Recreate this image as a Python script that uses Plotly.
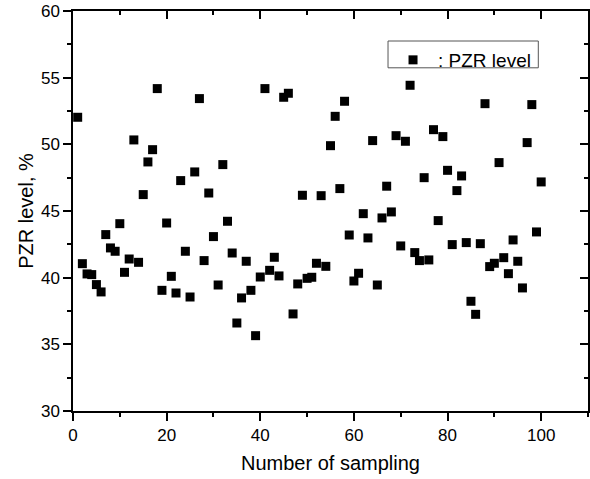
import plotly.graph_objects as go

sample_no = list(range(1, 101))
pzr_level = [
    52.03, 41.05, 40.28, 40.23, 39.48, 38.93, 43.23, 42.23, 41.98, 44.05,
    40.40, 41.40, 50.33, 41.15, 46.23, 48.68, 49.60, 54.18, 39.05, 44.10,
    40.10, 38.85, 47.28, 41.98, 38.55, 47.93, 53.43, 41.28, 46.35, 43.08,
    39.45, 48.48, 44.23, 41.85, 36.60, 38.48, 41.23, 39.05, 35.65, 40.05,
    54.18, 40.55, 41.53, 40.13, 53.53, 53.83, 37.28, 39.53, 46.18, 39.95,
    40.03, 41.08, 46.15, 40.85, 49.90, 52.10, 46.68, 53.23, 43.20, 39.75,
    40.33, 44.80, 42.98, 50.28, 39.45, 44.48, 46.86, 44.93, 50.65, 42.38,
    50.23, 54.43, 41.88, 41.28, 47.50, 41.33, 51.10, 44.28, 50.58, 48.05,
    42.48, 46.53, 47.63, 42.63, 38.23, 37.25, 42.55, 53.05, 40.83, 41.08,
    48.63, 41.50, 40.30, 42.83, 41.23, 39.23, 50.13, 52.98, 43.43, 47.18,
]
series_name = ": PZR level"
x_title = "Number of sampling"
y_title = "PZR level, %"

FONT = "Liberation Sans, Arial, sans-serif"

fig = go.Figure()
fig.add_trace(go.Scatter(
    x=sample_no, y=pzr_level, mode="markers", name=series_name,
    marker=dict(symbol="square", size=9, color="black", line=dict(width=0)),
    showlegend=True,
))
# empty helper trace so the mirrored (top/right) frame axes get drawn
fig.add_trace(go.Scatter(x=[], y=[], xaxis="x2", yaxis="y2",
                         showlegend=False, hoverinfo="skip"))

common = dict(showgrid=False, zeroline=False, showline=True, linecolor="black",
              linewidth=1.5, tickcolor="black", tickwidth=1.5, ticklen=8,
              automargin=False)

fig.update_layout(
    width=590, height=479,
    margin=dict(l=73, r=2, t=11, b=68),
    paper_bgcolor="white", plot_bgcolor="white",
    font=dict(family=FONT, size=17, color="black"),
    showlegend=True,
    legend=dict(x=0.6117, y=0.925, xanchor="left", yanchor="top",
                borderwidth=0, bgcolor="rgba(0,0,0,0)",
                font=dict(size=19, family=FONT), itemsizing="trace",
                itemwidth=40),
    shapes=[dict(type="rect", xref="paper", yref="paper",
                 x0=0.6117, x1=0.9035, y0=0.858, y1=0.925,
                 line=dict(color="#555555", width=1), fillcolor="white",
                 layer="above")],
    xaxis=dict(range=[0, 110], tick0=0, dtick=20, ticks="outside",
               title=dict(text=x_title, font=dict(size=20), standoff=12),
               minor=dict(ticks="outside", ticklen=4, dtick=10, tick0=0,
                          tickcolor="black", tickwidth=1.5),
               **common),
    yaxis=dict(range=[30, 60], tick0=30, dtick=5, ticks="outside",
               title=dict(text=y_title, font=dict(size=20), standoff=2),
               minor=dict(ticks="outside", ticklen=4, dtick=2.5, tick0=30,
                          tickcolor="black", tickwidth=1.5),
               **common),
    xaxis2=dict(range=[0, 110], overlaying="x", side="top", anchor="y2",
                tick0=0, dtick=20, ticks="inside", showticklabels=False,
                minor=dict(ticks="inside", ticklen=4, dtick=10, tick0=0,
                           tickcolor="black", tickwidth=1.5),
                **common),
    yaxis2=dict(range=[30, 60], overlaying="y", side="right", anchor="x2",
                tick0=30, dtick=5, ticks="inside", showticklabels=False,
                minor=dict(ticks="inside", ticklen=4, dtick=2.5, tick0=30,
                           tickcolor="black", tickwidth=1.5),
                **common),
)

# remove the browser's default 8px page margin so the figure sits at (0,0)
fig.write_html(
    "out.html",
    config={"displayModeBar": False},
    post_script="document.body.style.margin='0';"
                "document.body.style.overflow='hidden';"
                "document.documentElement.style.overflow='hidden';",
)
